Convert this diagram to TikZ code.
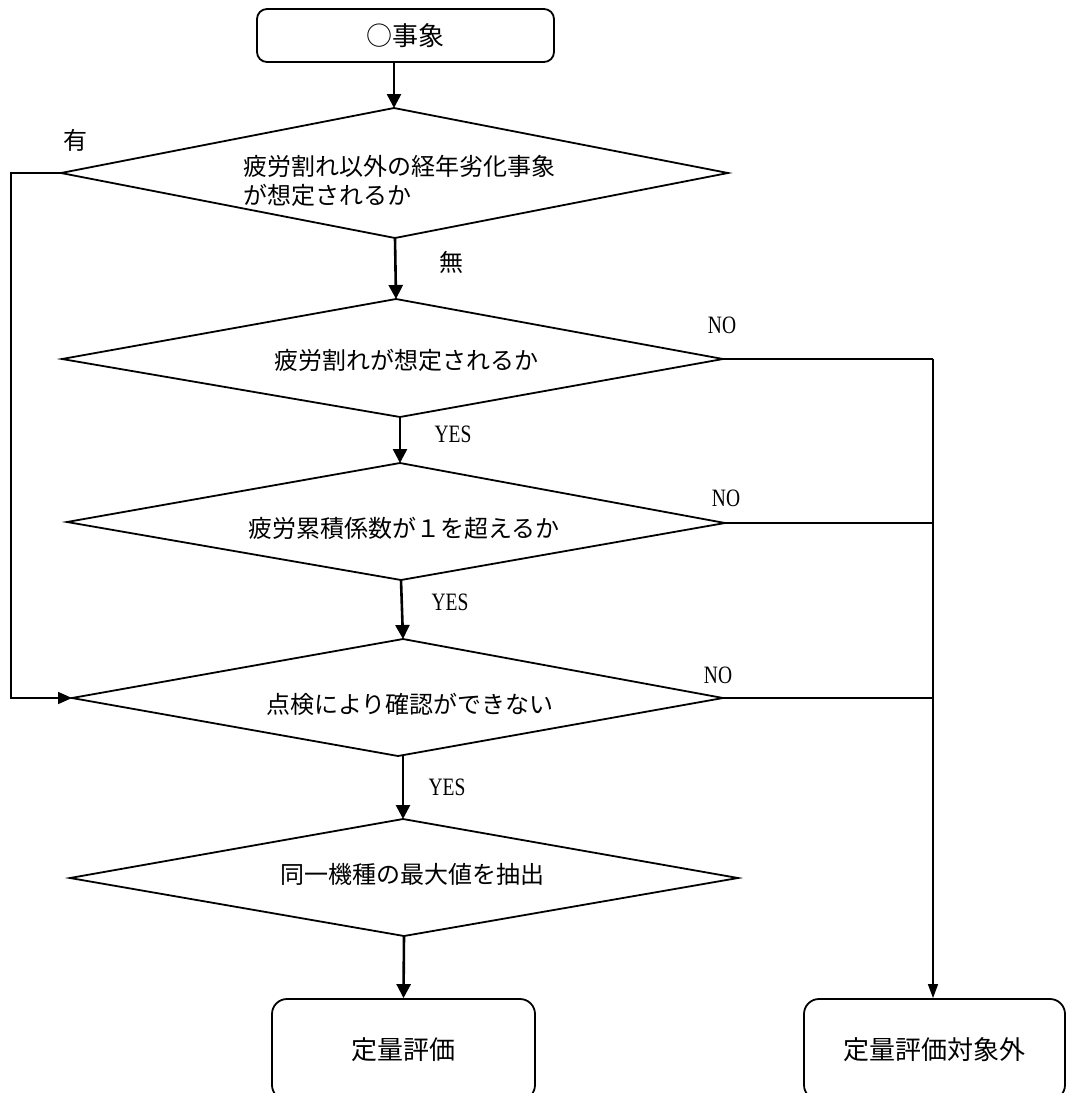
\documentclass[tikz,border=0pt]{standalone}
\usepackage{fontspec}
\usepackage{graphicx}
\newfontfamily\jpfont{Noto Sans CJK JP}
\newfontfamily\latfont{Liberation Serif}
\usetikzlibrary{arrows.meta}
\begin{document}
\begin{tikzpicture}[x=1pt,y=-1pt,
  shapeline/.style={line width=1.8pt, line join=miter},
  flow/.style={line width=2.6pt, -{Triangle[width=14pt,length=14pt]}},
  thinflow/.style={line width=1.5pt, -{Triangle[width=10pt,length=14pt]}},
  link/.style={line width=1.6pt},
  jp/.style={font=\jpfont\fontsize{24}{29}\selectfont, inner sep=0pt},
  yn/.style={font=\latfont\fontsize{25}{25}\selectfont, inner sep=0pt},
  rbox/.style={draw, line width=1.8pt, inner sep=0pt, font=\jpfont\fontsize{26}{30}\selectfont}]
\useasboundingbox (0,0) rectangle (1066,1093);
\clip (0,0) rectangle (1066,1093);

% start box
\node[rbox, rounded corners=10pt, minimum width=297pt, minimum height=53pt] (start) at (405.5,35.5) {○事象};

% diamond 1
\coordinate (d1t) at (394,108);
\coordinate (d1r) at (728,173);
\coordinate (d1b) at (395,238);
\coordinate (d1l) at (61,173);
\draw[shapeline] (d1t) -- (d1r) -- (d1b) -- (d1l) -- cycle;
\node[jp, anchor=west, align=left] (q1) at (243,181) {疲労割れ以外の経年劣化事象\\が想定されるか};

% diamond 2
\coordinate (d2t) at (396,299);
\coordinate (d2r) at (723,359);
\coordinate (d2b) at (400,417);
\coordinate (d2l) at (62,359);
\draw[shapeline] (d2t) -- (d2r) -- (d2b) -- (d2l) -- cycle;
\node[jp] (q2) at (406,360) {疲労割れが想定されるか};

% diamond 3
\coordinate (d3t) at (400,463);
\coordinate (d3r) at (725,523);
\coordinate (d3b) at (401,580);
\coordinate (d3l) at (67,522);
\draw[shapeline] (d3t) -- (d3r) -- (d3b) -- (d3l) -- cycle;
\node[jp] (q3) at (404,528) {疲労累積係数が１を超えるか};

% diamond 4
\coordinate (d4t) at (403,639);
\coordinate (d4r) at (723,698);
\coordinate (d4b) at (398,756);
\coordinate (d4l) at (72,698);
\draw[shapeline] (d4t) -- (d4r) -- (d4b) -- (d4l) -- cycle;
\node[jp] (q4) at (410,704) {点検により確認ができない};

% diamond 5
\coordinate (d5t) at (403,819);
\coordinate (d5r) at (738,878);
\coordinate (d5b) at (404,936);
\coordinate (d5l) at (70,878);
\draw[shapeline] (d5t) -- (d5r) -- (d5b) -- (d5l) -- cycle;
\node[jp] (q5) at (412,874) {同一機種の最大値を抽出};

% end boxes
\node[rbox, rounded corners=15pt, minimum width=263pt, minimum height=101pt] (ev) at (403.5,1049.5) {定量評価};
\node[rbox, rounded corners=15pt, minimum width=261pt, minimum height=101pt] (nev) at (934.5,1049.5) {定量評価対象外};

% main flow
\draw[flow] (d1t |- start.south) -- (d1t);
\draw[flow] (d1b) -- (d2t);
\draw[flow] (d2b) -- (d3t);
\draw[flow] (d3b) -- (d4t);
\draw[flow] (d5t |- d4b) -- (d5t);
\draw[flow] (d5b) -- (ev.north);

% NO branches
\coordinate (rj) at (933,359);
\draw[link] (d2r) -- (rj);
\draw[link] (d3r) -- (d3r -| rj);
\draw[link] (d4r) -- (d4r -| rj);
\draw[thinflow] (rj) -- (rj |- nev.north);

% loop
\coordinate (lp1) at (11,173);
\coordinate (lp2) at (11,698);
\draw[link, -{Triangle[width=12pt,length=14pt]}] (d1l) -- (lp1) -- (lp2) -- (d4l);

% labels
\node[jp] (lyes1) at (75,140) {有};
\node[jp] (lno1) at (451,262) {無};
\node[yn] (n2) at (722,325) {\scalebox{0.78}[1]{NO}};
\node[yn] (n3) at (726,498) {\scalebox{0.78}[1]{NO}};
\node[yn] (n4) at (718,675) {\scalebox{0.78}[1]{NO}};
\node[yn] (y2) at (453,434) {\scalebox{0.78}[1]{YES}};
\node[yn] (y3) at (450,602) {\scalebox{0.78}[1]{YES}};
\node[yn] (y4) at (447,787) {\scalebox{0.78}[1]{YES}};
\end{tikzpicture}
\end{document}
